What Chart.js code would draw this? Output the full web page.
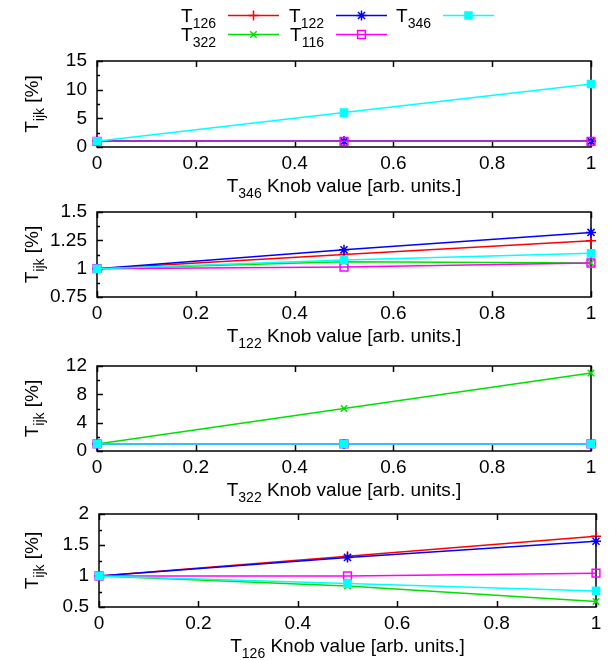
<!DOCTYPE html>
<html>
<head>
<meta charset="utf-8">
<script src="https://cdn.jsdelivr.net/npm/chart.js@4.4.1/dist/chart.umd.min.js"></script>
<style>
    html, body { margin: 0; padding: 0; background: #fff; }
    #wrap { position: relative; width: 610px; height: 660px; }
    #wrap canvas { position: absolute; left: 0; top: 0; }
</style>
</head>
<body>
<div id="wrap">
    <canvas id="c0" width="610" height="660"></canvas>
    <canvas id="c1" width="610" height="660"></canvas>
    <canvas id="c2" width="610" height="660"></canvas>
    <canvas id="c3" width="610" height="660"></canvas>
</div>
<script>
// ===============================
// Data
// ===============================

const knobValues = [0, 0.5, 1];
const seriesNames = ["126", "322", "122", "116", "346"];   // T126, T322, T122, T116, T346

// each scan: one row per series, in seriesNames order
const scan346 = [[1, 1, 1], [1, 1, 1], [1, 1, 1], [1, 1, 1], [1, 6, 11]];
const scan122 = [[1, 1.126, 1.247], [1, 1.062, 1.05], [1, 1.166, 1.32], [1, 1.014, 1.05], [1, 1.076, 1.135]];
const scan322 = [[1, 1, 1], [1, 6, 11], [1, 1, 1], [1, 1, 1], [1, 1, 1]];
const scan126 = [[1, 1.32, 1.64], [1, 0.84, 0.59], [1, 1.30, 1.56], [1, 1.0, 1.045], [1, 0.88, 0.76]];

const panelKnobs = ["346", "122", "322", "126"];
const panelScans = [scan346, scan122, scan322, scan126];

// y axis: [min, max, step]
const yTicks346 = [0, 15, 5];
const yTicks122 = [0.75, 1.5, 0.25];
const yTicks322 = [0, 12, 4];
const yTicks126 = [0.5, 2, 0.5];
const panelYTicks = [yTicks346, yTicks122, yTicks322, yTicks126];

// ===============================
// Styles / layout
// ===============================

const FONT = "'Liberation Sans', Arial, Helvetica, sans-serif";
const FONT_SIZE = 19;

Chart.defaults.font.family = FONT;
Chart.defaults.font.size = FONT_SIZE;
Chart.defaults.color = "#000";

const seriesStyle = [
    { color: "#ff0000", pointStyle: "cross", fill: "rgba(0,0,0,0)", radius: 5, order: 5 },
    { color: "#00e000", pointStyle: "crossRot", fill: "rgba(0,0,0,0)", radius: 4.5, order: 4 },
    { color: "#0000ff", pointStyle: "star", fill: "rgba(0,0,0,0)", radius: 5, order: 3 },
    { color: "#ff00ff", pointStyle: "rect", fill: "rgba(0,0,0,0)", radius: 5.5, order: 2 },
    { color: "#00ffff", pointStyle: "rect", fill: "#00ffff", radius: 5, order: 1 }
];

// plot area boxes in page pixels
const plotBoxes = [
    { left: 97, right: 591, top: 61, bottom: 147 },
    { left: 97, right: 591, top: 212, bottom: 297 },
    { left: 97, right: 591, top: 366, bottom: 451 },
    { left: 99, right: 596, top: 514, bottom: 607 }
];

// legend: line sample start x per column, line y per row
const legendCols = [228, 336, 443];
const legendRows = [15, 34];

// plain number labels: 1 not 1.0, 1.25 not 1.3
const fmt = v => String(+Number(v).toFixed(3));

// text with subscripts: parts = [{t, sub}]
function drawRich(ctx, parts, x, y, align, size) {
    const subSize = Math.round(size * 0.75);
    let total = 0;
    parts.forEach(p => {
        ctx.font = (p.sub ? subSize : size) + "px " + FONT;
        p.w = ctx.measureText(p.t).width;
        total += p.w;
    });
    let cx = align === "center" ? x - total / 2 : align === "right" ? x - total : x;
    ctx.textAlign = "left";
    ctx.textBaseline = "alphabetic";
    ctx.fillStyle = "#000";
    parts.forEach(p => {
        ctx.font = (p.sub ? subSize : size) + "px " + FONT;
        ctx.fillText(p.t, cx, p.sub ? y + size * 0.3 : y);
        cx += p.w;
    });
}

function drawMarker(ctx, st, x, y) {
    ctx.save();
    ctx.strokeStyle = st.color;
    ctx.fillStyle = st.fill;
    ctx.lineWidth = 1.5;
    if (Chart.helpers && Chart.helpers.drawPoint) {
        Chart.helpers.drawPoint(ctx, { pointStyle: st.pointStyle, radius: st.radius, rotation: 0, borderWidth: 1.5 }, x, y);
    } else {
        const s = st.radius * Math.SQRT1_2;
        ctx.fillRect(x - s, y - s, 2 * s, 2 * s);
        ctx.strokeRect(x - s, y - s, 2 * s, 2 * s);
    }
    ctx.restore();
}

// frame + inward ticks (gnuplot look)
const framePlugin = {
    id: "frame",
    beforeDatasetsDraw(chart) {
        const { ctx, chartArea: a, scales } = chart;
        ctx.save();
        ctx.strokeStyle = "#000";
        ctx.lineWidth = 1.5;

        // y ticks, major + minor, left side
        const yt = scales.y.ticks.map(t => t.value);
        ctx.beginPath();
        yt.forEach((v, i) => {
            const py = Math.round(scales.y.getPixelForValue(v)) + 0.5;
            ctx.moveTo(a.left, py); ctx.lineTo(a.left + 6, py);
            if (i > 0) {
                const pm = Math.round(scales.y.getPixelForValue((v + yt[i - 1]) / 2)) + 0.5;
                ctx.moveTo(a.left, pm); ctx.lineTo(a.left + 3, pm);
            }
        });
        // x ticks, bottom and top
        scales.x.ticks.forEach(t => {
            const px = Math.round(scales.x.getPixelForValue(t.value)) + 0.5;
            ctx.moveTo(px, a.bottom); ctx.lineTo(px, a.bottom - 6);
            ctx.moveTo(px, a.top); ctx.lineTo(px, a.top + 6);
        });
        ctx.stroke();

        ctx.strokeRect(a.left, a.top, a.right - a.left, a.bottom - a.top);
        ctx.restore();
    },
    afterDraw(chart, args, opts) {
        const { ctx, chartArea: a } = chart;
        ctx.save();

        // x title
        drawRich(ctx, [
            { t: "T" }, { t: opts.knob, sub: true }, { t: " Knob value [arb. units.]" }
        ], (a.left + a.right) / 2, a.bottom + 45, "center", FONT_SIZE);

        // y title (rotated)
        ctx.save();
        ctx.translate(38, (a.top + a.bottom) / 2);
        ctx.rotate(-Math.PI / 2);
        drawRich(ctx, [{ t: "T" }, { t: "ijk", sub: true }, { t: " [%]" }], 0, 0, "center", FONT_SIZE);
        ctx.restore();

        // legend (first panel only)
        if (opts.legend) {
            seriesNames.forEach((name, i) => {
                const st = seriesStyle[i];
                const x0 = legendCols[Math.floor(i / 2)];
                const y0 = legendRows[i % 2];
                drawRich(ctx, [{ t: "T" }, { t: name, sub: true }], x0 - 12, y0 + 7, "right", FONT_SIZE);
                ctx.strokeStyle = st.color;
                ctx.lineWidth = 1.5;
                ctx.beginPath();
                ctx.moveTo(x0, y0 + 0.5); ctx.lineTo(x0 + 51, y0 + 0.5);
                ctx.stroke();
                drawMarker(ctx, st, x0 + 25.5, y0 + 0.5);
            });
        }
        ctx.restore();
    }
};

// ===============================
// Build the four panels
// ===============================

panelScans.forEach((scan, p) => {
    const box = plotBoxes[p];
    const yt = panelYTicks[p];

    const datasets = scan.map((vals, i) => ({
        label: "T" + seriesNames[i],
        data: knobValues.map((k, j) => ({ x: k, y: vals[j] })),
        borderColor: seriesStyle[i].color,
        backgroundColor: seriesStyle[i].fill,
        pointStyle: seriesStyle[i].pointStyle,
        pointRadius: seriesStyle[i].radius,
        pointBorderWidth: 1.5,
        pointBackgroundColor: seriesStyle[i].fill,
        borderWidth: 1.5,
        tension: 0,
        clip: false,
        order: seriesStyle[i].order
    }));

    new Chart(document.getElementById("c" + p), {
        type: "line",
        data: { datasets },
        plugins: [framePlugin],
        options: {
            responsive: false,
            animation: false,
            events: [],
            layout: {
                padding: { top: box.top, left: 0, right: 610 - box.right, bottom: 0 }
            },
            plugins: {
                legend: { display: false },
                tooltip: { enabled: false },
                frame: { knob: panelKnobs[p], legend: p === 0 }
            },
            scales: {
                x: {
                    type: "linear",
                    min: 0,
                    max: 1,
                    grid: { display: false, drawTicks: false },
                    border: { display: false },
                    ticks: { stepSize: 0.2, padding: 5, maxRotation: 0, callback: fmt },
                    afterFit: s => { s.height = 660 - box.bottom; }
                },
                y: {
                    min: yt[0],
                    max: yt[1],
                    grid: { display: false, drawTicks: false },
                    border: { display: false },
                    ticks: { stepSize: yt[2], padding: 10, autoSkip: false, callback: fmt },
                    afterFit: s => { s.width = box.left; }
                }
            }
        }
    });
});
</script>
</body>
</html>
